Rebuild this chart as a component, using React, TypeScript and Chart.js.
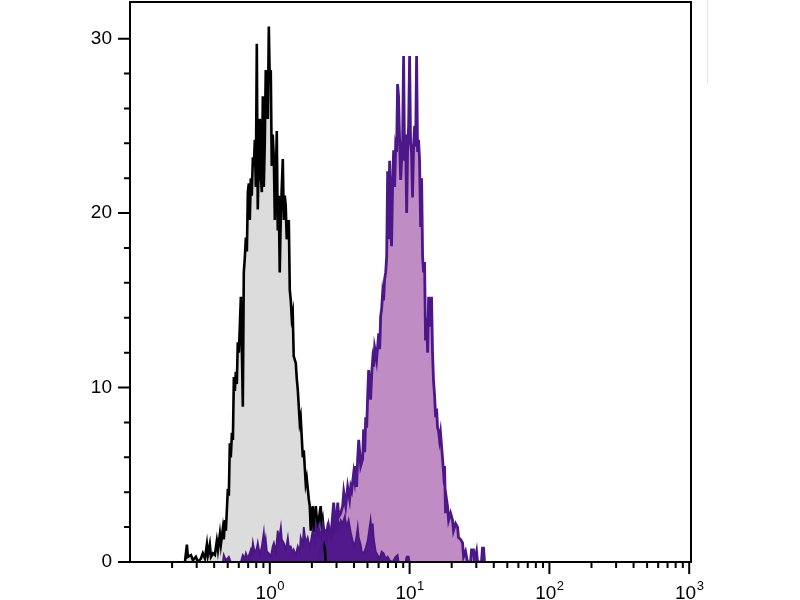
import React, { useEffect, useRef } from "react";
import { Chart, registerables } from "chart.js";

Chart.register(...registerables);

// Axis ticks
const xTickValues = [1, 10, 100, 1000];
const xTickBase = "10";
const xTickExponents = ["0", "1", "2", "3"];
const yTickValues = [0, 10, 20, 30];
const yTickLabels = ["0", "10", "20", "30"];

// Control (unstained) histogram: log10 fluorescence and counts
const controlLogFl = [
  -0.607, -0.593, -0.586, -0.564, -0.55, -0.529, -0.514, -0.493, -0.479, -0.464,
  -0.45, -0.443, -0.429, -0.421, -0.407, -0.393, -0.379, -0.371, -0.357, -0.35,
  -0.336, -0.329, -0.321, -0.314, -0.3, -0.293, -0.286, -0.279, -0.271, -0.264,
  -0.257, -0.25, -0.243, -0.236, -0.229, -0.221, -0.207, -0.2, -0.193, -0.186,
  -0.179, -0.171, -0.164, -0.157, -0.15, -0.143, -0.136, -0.129, -0.121, -0.114,
  -0.107, -0.1, -0.093, -0.086, -0.079, -0.071, -0.064, -0.057, -0.05, -0.043,
  -0.036, -0.029, -0.021, -0.014, -0.007, 0, 0.007, 0.014, 0.021, 0.029,
  0.036, 0.043, 0.05, 0.057, 0.064, 0.071, 0.079, 0.093, 0.1, 0.107,
  0.114, 0.121, 0.129, 0.136, 0.143, 0.15, 0.157, 0.164, 0.171, 0.186,
  0.193, 0.2, 0.214, 0.221, 0.236, 0.243, 0.257, 0.264, 0.279, 0.286,
  0.293, 0.3, 0.307, 0.314, 0.321, 0.329, 0.336, 0.343, 0.35, 0.364,
  0.371, 0.379, 0.386, 0.393, 0.4,
];
const controlCounts = [
  0, 1.0, 0.3, 0.4, 0.1, 0.3, 0, 0.2, 0.5, 0.2,
  1.0, 0.4, 1.0, 0.3, 0.5, 0.4, 1.2, 0.7, 1.6, 1.0,
  1.9, 1.3, 2.4, 1.8, 4.2, 3.8, 6.8, 6.0, 7.4, 7.0,
  10.6, 9.8, 10.9, 10.2, 12.6, 12.0, 15.2, 12.4, 8.9, 16.6,
  17.4, 18.6, 17.8, 21.2, 21.7, 19.6, 22.0, 21.0, 23.2, 22.7,
  24.2, 21.5, 29.7, 20.2, 23.5, 25.4, 22.0, 21.2, 26.7, 21.5,
  24.0, 28.2, 26.0, 25.4, 30.7, 27.5, 28.2, 22.7, 24.5, 23.1,
  19.6, 22.0, 24.7, 19.0, 21.0, 16.6, 20.0, 23.1, 19.6, 21.0,
  20.4, 18.5, 18.9, 19.6, 15.6, 15.0, 14.0, 14.3, 11.8, 11.4,
  10.5, 9.9, 8.0, 8.3, 6.0, 6.4, 4.5, 4.8, 3.6, 3.2,
  1.8, 2.6, 3.2, 1.7, 2.4, 3.2, 2.5, 1.8, 2.4, 3.2,
  2.0, 2.4, 1.8, 0.8, 0,
];

// Stained histogram (light purple)
const stainedLogFl = [
  0.35, 0.364, 0.386, 0.4, 0.414, 0.436, 0.457, 0.471, 0.486, 0.493,
  0.507, 0.521, 0.529, 0.543, 0.557, 0.571, 0.579, 0.586, 0.6, 0.607,
  0.614, 0.621, 0.629, 0.636, 0.643, 0.65, 0.664, 0.671, 0.679, 0.686,
  0.693, 0.7, 0.707, 0.714, 0.721, 0.729, 0.736, 0.743, 0.75, 0.757,
  0.764, 0.771, 0.779, 0.786, 0.793, 0.8, 0.807, 0.814, 0.821, 0.829,
  0.836, 0.843, 0.85, 0.857, 0.864, 0.871, 0.879, 0.886, 0.893, 0.9,
  0.907, 0.914, 0.921, 0.929, 0.936, 0.943, 0.95, 0.957, 0.964, 0.971,
  0.979, 0.986, 0.993, 1.0, 1.007, 1.014, 1.021, 1.029, 1.036, 1.043,
  1.05, 1.057, 1.064, 1.071, 1.079, 1.086, 1.093, 1.1, 1.107, 1.114,
  1.121, 1.129, 1.136, 1.143, 1.15, 1.157, 1.164, 1.171, 1.179, 1.186,
  1.193, 1.2, 1.207, 1.214, 1.221, 1.236, 1.243, 1.25, 1.257, 1.264,
  1.271, 1.279, 1.293, 1.307, 1.314, 1.329, 1.343, 1.35, 1.364, 1.379,
  1.386, 1.4, 1.414, 1.436, 1.443, 1.457, 1.464, 1.479, 1.486, 1.514,
  1.521, 1.529, 1.536,
];
const stainedCounts = [
  0, 0.5, 1.7, 1.2, 2.0, 1.4, 3.4, 1.8, 3.4, 2.6,
  2.8, 3.2, 4.0, 3.2, 4.3, 3.6, 4.3, 4.1, 5.1, 4.7,
  5.5, 4.3, 6.0, 7.0, 6.3, 5.5, 5.9, 7.6, 6.3, 8.3,
  7.7, 9.5, 11.0, 10.0, 9.3, 10.8, 11.6, 11.2, 12.3, 12.0,
  11.6, 12.3, 13.1, 12.2, 14.1, 14.5, 15.4, 15.0, 16.2, 16.6,
  17.5, 22.4, 18.5, 23.0, 19.4, 18.1, 22.0, 23.6, 21.5, 23.8,
  23.5, 27.4, 26.7, 24.0, 21.9, 23.0, 24.2, 29.0, 23.0, 24.5,
  20.0, 23.9, 25.0, 29.0, 24.0, 23.5, 20.9, 24.0, 25.0, 23.8,
  29.0, 23.5, 24.2, 23.1, 19.2, 22.0, 17.5, 16.6, 17.2, 12.7,
  14.0, 12.0, 15.2, 13.5, 14.0, 15.2, 12.0, 10.4, 9.5, 8.3,
  8.8, 7.7, 7.5, 7.0, 7.4, 5.9, 5.1, 5.5, 2.8, 3.6,
  3.2, 2.4, 2.8, 2.4, 1.8, 2.2, 2.0, 1.4, 1.3, 1.1,
  0.3, 0.6, 0, 0, 0.7, 0.7, 0, 0.6, 0, 0,
  0.8, 0.8, 0,
];

// Low-level dark purple histogram
const isotypeLogFl = [
  -0.336, -0.329, -0.314, -0.293, -0.279, -0.207, -0.193, -0.179, -0.171, -0.157,
  -0.136, -0.129, -0.121, -0.107, -0.093, -0.086, -0.071, -0.057, -0.043, -0.036,
  -0.029, -0.021, -0.007, 0.007, 0.021, 0.029, 0.043, 0.057, 0.064, 0.079,
  0.086, 0.1, 0.114, 0.129, 0.136, 0.15, 0.164, 0.171, 0.186, 0.2,
  0.214, 0.221, 0.236, 0.243, 0.257, 0.271, 0.286, 0.3, 0.307, 0.321,
  0.329, 0.343, 0.35, 0.364, 0.379, 0.386, 0.4, 0.407, 0.421, 0.436,
  0.45, 0.457, 0.471, 0.486, 0.493, 0.507, 0.521, 0.536, 0.55, 0.564,
  0.579, 0.593, 0.607, 0.621, 0.629, 0.636, 0.65, 0.657, 0.671, 0.686,
  0.7, 0.714, 0.721, 0.729, 0.736, 0.743, 0.757, 0.771, 0.786, 0.8,
  0.814, 0.829, 0.843, 0.857, 0.879, 0.9, 0.914, 0.921, 0.971, 0.979,
  0.993, 1.0,
];
const isotypeCounts = [
  0, 0.4, 0.1, 0.3, 0, 0, 0.4, 0.2, 0.5, 0.2,
  0.7, 0.4, 1.1, 0.5, 0.8, 1.1, 0.4, 0.9, 1.7, 0.9,
  1.3, 0.6, 0.5, 0.3, 0.9, 1.1, 0.6, 1.8, 1.2, 2.0,
  1.3, 1.1, 0.7, 1.4, 0.9, 0.9, 0.5, 0.7, 0.4, 0.9,
  0.6, 1.4, 1.0, 2.0, 1.1, 1.4, 0.8, 1.5, 1.8, 1.2,
  2.2, 1.6, 2.0, 1.4, 2.2, 1.6, 1.8, 1.1, 2.2, 1.5,
  2.5, 1.6, 2.0, 2.6, 1.9, 2.4, 2.2, 2.6, 2.0, 2.4,
  1.7, 1.2, 0.9, 1.5, 2.0, 1.4, 1.0, 0.6, 0.5, 0.8,
  1.2, 2.0, 2.4, 1.7, 2.2, 1.4, 0.6, 0.4, 0.2, 0.6,
  0.5, 0.2, 0.3, 0.1, 0, 0.3, 0.4, 0, 0, 0.3,
  0.3, 0,
];

const toPoints = (logs: number[], counts: number[]) =>
  logs.map((l, i) => ({ x: Math.pow(10, l), y: counts[i] }));

const FONT_FAMILY = "'Liberation Sans', Arial, sans-serif";

const framePlugin = {
  id: "frameTicks",
  afterDatasetsDraw(chart: any) {
    const { ctx, chartArea: a, scales } = chart;
    const xs = scales.x;
    const ys = scales.y;
    ctx.save();
    ctx.strokeStyle = "#000";
    ctx.lineWidth = 2;
    ctx.beginPath();
    // y ticks: major every 10, minor every 2
    for (let v = 0; v <= 30; v += 2) {
      const py = ys.getPixelForValue(v);
      const len = v % 10 === 0 ? 12 : 6;
      ctx.moveTo(a.left - len, py);
      ctx.lineTo(a.left, py);
    }
    // x ticks: log decades with minor ticks
    for (let d = -1; d < 3; d++) {
      for (let k = 1; k <= 9; k++) {
        const v = k * Math.pow(10, d);
        if (v <= 0.1) continue;
        const px = xs.getPixelForValue(v);
        const len = k === 1 ? 12 : 6;
        ctx.moveTo(px, a.bottom);
        ctx.lineTo(px, a.bottom + len);
      }
    }
    const p3 = xs.getPixelForValue(1000);
    ctx.moveTo(p3, a.bottom);
    ctx.lineTo(p3, a.bottom + 12);
    ctx.stroke();
    ctx.strokeRect(a.left, a.top, a.right - a.left, a.bottom - a.top);

    // x tick labels: 10 with superscript exponent
    ctx.fillStyle = "#000";
    ctx.textBaseline = "alphabetic";
    ctx.textAlign = "left";
    xTickValues.forEach((v, i) => {
      const px = xs.getPixelForValue(v);
      ctx.font = `19px ${FONT_FAMILY}`;
      const wBase = ctx.measureText(xTickBase).width;
      ctx.font = `13px ${FONT_FAMILY}`;
      const wExp = ctx.measureText(xTickExponents[i]).width;
      const x0 = px - (wBase + wExp) / 2;
      ctx.font = `19px ${FONT_FAMILY}`;
      ctx.fillText(xTickBase, x0, a.bottom + 37);
      ctx.font = `13px ${FONT_FAMILY}`;
      ctx.fillText(xTickExponents[i], x0 + wBase + 0.5, a.bottom + 28);
    });
    ctx.restore();
  },
  afterDraw(chart: any) {
    const { ctx } = chart;
    ctx.save();
    ctx.strokeStyle = "#e6e6e6";
    ctx.lineWidth = 1;
    ctx.beginPath();
    ctx.moveTo(707.5, 0);
    ctx.lineTo(707.5, 84);
    ctx.stroke();
    ctx.restore();
  },
};

export default function App() {
  const canvasRef = useRef<HTMLCanvasElement | null>(null);

  useEffect(() => {
    if (!canvasRef.current) return;
    const font = { family: FONT_FAMILY, size: 19 };
    const chart = new Chart(canvasRef.current, {
      type: "line",
      data: {
        datasets: [
          {
            label: "isotype",
            data: toPoints(isotypeLogFl, isotypeCounts),
            borderColor: "#4a1585",
            backgroundColor: "#52198c",
            borderWidth: 1.8,
            fill: "origin",
            pointRadius: 0,
            tension: 0,
            order: 1,
          },
          {
            label: "stained",
            data: toPoints(stainedLogFl, stainedCounts),
            borderColor: "#4c1788",
            backgroundColor: "#c08cc4",
            borderWidth: 2.8,
            fill: "origin",
            pointRadius: 0,
            tension: 0,
            order: 2,
          },
          {
            label: "control",
            data: toPoints(controlLogFl, controlCounts),
            borderColor: "#000000",
            backgroundColor: "#dcdcdc",
            borderWidth: 2.6,
            fill: "origin",
            pointRadius: 0,
            tension: 0,
            order: 3,
          },
        ],
      },
      options: {
        responsive: false,
        animation: false,
        events: [],
        layout: { padding: { left: 0, top: 2, right: 109, bottom: 0 } },
        plugins: {
          legend: { display: false },
          tooltip: { enabled: false },
          filler: { drawTime: "beforeDatasetsDraw" },
        },
        scales: {
          x: {
            type: "logarithmic",
            min: 0.1,
            max: 1030,
            grid: { display: false, drawTicks: false },
            border: { display: false },
            afterBuildTicks: (scale: any) => {
              scale.ticks = xTickValues.map((v) => ({ value: v }));
            },
            afterFit: (scale: any) => {
              scale.height = 38;
              scale.paddingLeft = 0;
              scale.paddingRight = 0;
            },
            ticks: { display: false },
          },
          y: {
            type: "linear",
            min: 0,
            max: 32.1,
            grid: { display: false, drawTicks: false },
            border: { display: false },
            afterBuildTicks: (scale: any) => {
              scale.ticks = yTickValues.map((v) => ({ value: v }));
            },
            afterFit: (scale: any) => {
              scale.width = 130;
              scale.paddingTop = 0;
              scale.paddingBottom = 0;
            },
            ticks: {
              padding: 18,
              color: "#000",
              font,
              callback: (value: any) => yTickLabels[yTickValues.indexOf(Number(value))] ?? "",
            },
          },
        },
      },
      plugins: [framePlugin],
    } as any);
    return () => chart.destroy();
  }, []);

  return (
    <div style={{ position: "fixed", left: 0, top: 0, width: 800, height: 600, background: "#fff" }}>
      <canvas ref={canvasRef} width={800} height={600} style={{ display: "block" }} />
    </div>
  );
}
